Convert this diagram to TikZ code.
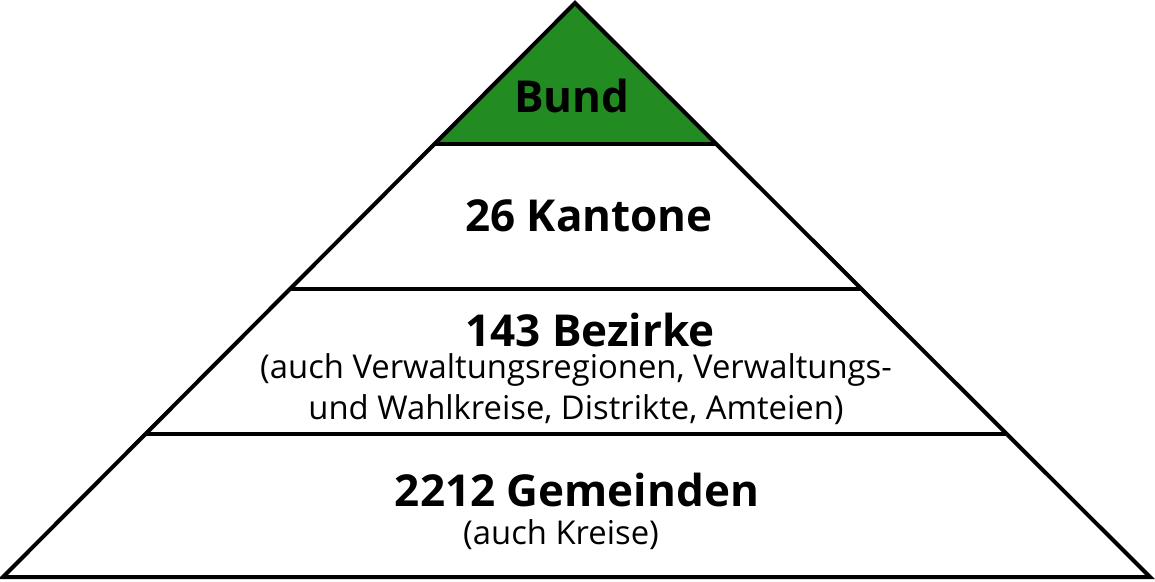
\documentclass[tikz,border=0pt]{standalone}
\usepackage{fontspec}
\setmainfont{Open Sans}
\usetikzlibrary{calc, positioning}
\definecolor{cgreen}{HTML}{228B22}
\tikzset{
  every picture/.style={line width=4pt},
  level/.style={font=\fontsize{44}{50}\selectfont\bfseries, inner sep=0pt},
  note/.style={font=\fontsize{32.8}{41}\selectfont, align=center, inner sep=0pt},
  rim/.style={draw=black, line join=miter},
}

\begin{document}
\begin{tikzpicture}[x=1pt, y=-1pt]
  \useasboundingbox (0,0) rectangle (1155,581);
  % ---------- corners ----------
  \coordinate (apex) at (575,3);
  \coordinate (bl) at (3,577);
  \coordinate (br) at (1150,577);
  % ---------- level lines ----------
  \foreach \t [count=\i] in {0.2456,0.498,0.751} {
    \coordinate (l\i) at ($(apex)!\t!(bl)$);
    \coordinate (r\i) at ($(apex)!\t!(br)$);
  }
  \fill[cgreen] (apex) -- (l1) -- (r1) -- cycle;
  \draw[rim] (apex) -- (bl) -- (br) -- cycle;
  \foreach \i in {1,2,3} \draw (l\i) -- (r\i);
  % ---------- labels ----------
  \node[level] (bund) at (572,96) {Bund};
  \node[level] (kantone) at (589,216) {26 Kantone};
  \node[level] (bezirke) at (590,330) {143 Bezirke};
  \node[note, below=3pt of bezirke, xshift=-14pt] (bezirkenote) {(auch Verwaltungsregionen, Verwaltungs-\\und Wahlkreise, Distrikte, Amteien)};
  \node[level] (gemeinden) at (577,490) {2212 Gemeinden};
  \node[note, below=9pt of gemeinden, xshift=-16pt] (gemeindennote) {(auch Kreise)};
\end{tikzpicture}
\end{document}
